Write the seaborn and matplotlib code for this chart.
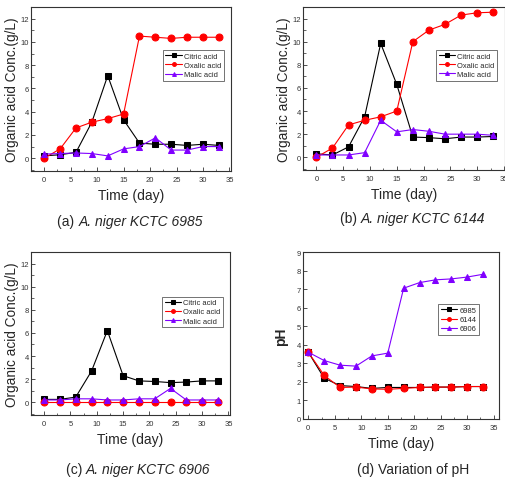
import numpy as np
import pandas as pd
import matplotlib
matplotlib.use('Agg')
import matplotlib.pyplot as plt
from matplotlib.ticker import MultipleLocator
import seaborn as sns

sns.set_style('ticks')
plt.rcParams['font.family'] = ['Liberation Sans', 'DejaVu Sans']
plt.rcParams['xtick.direction'] = 'in'
plt.rcParams['ytick.direction'] = 'in'

# Data
days = [0, 3, 6, 9, 12, 15, 18, 21, 24, 27, 30, 33]

citric_6985 = [0.2, 0.3, 0.5, 3.1, 7.1, 3.3, 1.3, 1.2, 1.2, 1.1, 1.2, 1.1]
oxalic_6985 = [0.0, 0.8, 2.6, 3.1, 3.4, 3.8, 10.5, 10.4, 10.3, 10.4, 10.4, 10.4]
malic_6985 = [0.35, 0.4, 0.45, 0.4, 0.2, 0.8, 1.0, 1.75, 0.7, 0.7, 1.0, 1.0]

citric_6144 = [0.3, 0.2, 0.9, 3.5, 9.85, 6.3, 1.75, 1.7, 1.6, 1.75, 1.75, 1.8]
oxalic_6144 = [0.0, 0.8, 2.8, 3.2, 3.5, 4.0, 10.0, 11.0, 11.5, 12.3, 12.5, 12.55]
malic_6144 = [0.2, 0.2, 0.2, 0.4, 3.2, 2.2, 2.4, 2.25, 2.0, 2.0, 2.0, 1.9]

citric_6906 = [0.25, 0.25, 0.45, 2.7, 6.2, 2.3, 1.85, 1.8, 1.7, 1.75, 1.85, 1.85]
oxalic_6906 = [0.0, 0.0, 0.0, 0.0, 0.0, 0.0, 0.0, 0.0, 0.0, 0.0, 0.0, 0.0]
malic_6906 = [0.2, 0.2, 0.3, 0.3, 0.2, 0.2, 0.3, 0.3, 1.2, 0.2, 0.2, 0.2]

ph_6985 = [3.6, 2.2, 1.8, 1.75, 1.65, 1.7, 1.7, 1.7, 1.72, 1.72, 1.75, 1.75]
ph_6144 = [3.6, 2.35, 1.7, 1.72, 1.62, 1.6, 1.65, 1.7, 1.72, 1.72, 1.75, 1.75]
ph_6906 = [3.6, 3.15, 2.9, 2.85, 3.4, 3.55, 7.05, 7.35, 7.5, 7.55, 7.65, 7.8]

acid_names = ['Citric acid', 'Oxalic acid', 'Malic acid']
strain_names = ['6985', '6144', '6906']
colors = ['black', '#ff0000', '#8000ff']
markers = ['s', 'o', '^']

W, H = 505, 481
fig = plt.figure(figsize=(W / 100, H / 100), dpi=100)


def px_axes(x0, y0, x1, y1):
    return fig.add_axes([x0 / W, 1 - y1 / H, (x1 - x0) / W, (y1 - y0) / H])


def draw(ax, series, names, leg_box):
    for vals, name, c, m in zip(series, names, colors, markers):
        sns.lineplot(x=days, y=vals, ax=ax, color=c, marker=m, markersize=5,
                     markeredgecolor=c, linewidth=0.8, label=name)
    ax.set_xticks(range(0, 36, 5))
    ax.xaxis.set_minor_locator(MultipleLocator(2.5))
    ax.tick_params(labelsize=5.5, colors='#333333', length=3, width=0.6)
    ax.tick_params(axis='y', pad=1.5)
    ax.tick_params(which='minor', length=1.8, width=0.5)
    for s in ax.spines.values():
        s.set_linewidth(0.8)
        s.set_color('#333333')
    ax.set_xlabel('Time (day)', fontsize=10)
    leg = ax.legend(loc='upper left', bbox_to_anchor=leg_box, fontsize=5.4,
                    frameon=True, fancybox=False, edgecolor='#333333',
                    handlelength=2.2, markerscale=0.55, borderpad=0.35,
                    labelspacing=0.25, handletextpad=0.3)
    leg.get_frame().set_linewidth(0.6)
    return ax


def acid_panel(ax, series, leg_box, xmax=35.3, ymin=-1.1):
    draw(ax, series, acid_names, leg_box)
    ax.set_xlim(-2.5, xmax)
    ax.set_ylim(ymin, 13)
    ax.set_yticks(range(0, 13, 2))
    ax.yaxis.set_minor_locator(MultipleLocator(1))
    ax.set_ylabel('Organic acid Conc.(g/L)', fontsize=9.8, labelpad=1)


ax_a = px_axes(31, 8, 231, 172)
acid_panel(ax_a, [citric_6985, oxalic_6985, malic_6985], (0.64, 0.76))

ax_b = px_axes(303, 8, 505, 171)
acid_panel(ax_b, [citric_6144, oxalic_6144, malic_6144], (0.64, 0.76), xmax=35.2)

ax_c = px_axes(31, 253, 230, 416)
acid_panel(ax_c, [citric_6906, oxalic_6906, malic_6906], (0.64, 0.75))

ax_d = px_axes(303, 253, 499, 420)
draw(ax_d, [ph_6985, ph_6144, ph_6906], strain_names, (0.67, 0.71))
ax_d.set_xlim(-1, 36)
ax_d.set_ylim(0, 9)
ax_d.set_yticks(range(0, 10))
ax_d.set_ylabel('pH', fontsize=10, fontweight='bold', labelpad=6)


# Captions: tag upright, strain name italic
def two_part(xc, y, tag, rest):
    t1 = fig.text(0, 1 - y / H, tag + ' ', fontsize=10, va='center')
    t2 = fig.text(0, 1 - y / H, rest, fontsize=10, style='italic', va='center')
    fig.canvas.draw()
    r = fig.canvas.get_renderer()
    w1 = t1.get_window_extent(r).width
    w2 = t2.get_window_extent(r).width
    x0 = xc - (w1 + w2) / 2
    t1.set_x(x0 / W)
    t2.set_x((x0 + w1) / W)


two_part(130, 222, '(a)', 'A. niger KCTC 6985')
two_part(413, 219, '(b)', 'A. niger KCTC 6144')
two_part(138, 470, '(c)', 'A. niger KCTC 6906')
fig.text(413 / W, 1 - 470 / H, '(d) Variation of pH', fontsize=10,
         ha='center', va='center')

fig.savefig('out.png', dpi=100)
